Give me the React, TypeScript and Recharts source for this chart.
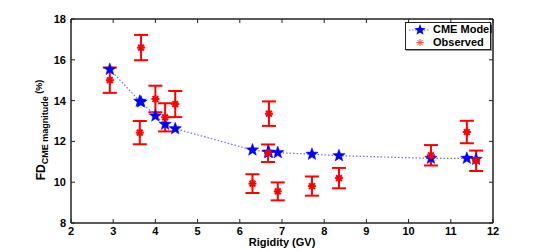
import {
  ScatterChart,
  Scatter,
  XAxis,
  YAxis,
  ErrorBar,
  Legend,
  CartesianGrid,
} from "recharts";

// rigidity of each station (GV)
const rigidity = [2.92, 3.63, 3.66, 4.0, 4.23, 4.47, 6.3, 6.67, 6.69, 6.9, 7.71, 8.35, 10.53, 11.38, 11.6];
// observed FD magnitude (%) and its error
const observed = [15.0, 12.43, 16.6, 14.08, 13.18, 13.83, 9.93, 11.42, 13.36, 9.55, 9.81, 10.2, 11.32, 12.46, 11.05];
const observedErr = [0.62, 0.57, 0.62, 0.65, 0.69, 0.64, 0.46, 0.43, 0.6, 0.44, 0.47, 0.5, 0.5, 0.55, 0.5];
// CME model FD magnitude (%)
const model = [15.53, 13.97, 13.93, 13.25, 12.84, 12.62, 11.58, 11.47, 11.46, 11.45, 11.37, 11.3, 11.17, 11.17, 11.12];

const xTicks = [2, 3, 4, 5, 6, 7, 8, 9, 10, 11, 12];
const yTicks = [8, 10, 12, 14, 16, 18];
const xEdges = [2, 12];
const yEdges = [8, 18];

const obsData = rigidity.map((x, i) => ({ x, y: observed[i], err: observedErr[i] }));
const modelData = rigidity.map((x, i) => ({ x, y: model[i] }));

const FONT = "'Liberation Sans', Arial, sans-serif";
const AXIS = "#222";

// chart layout
const W = 545;
const H = 251;
const MARGIN = { top: 9, right: 42, bottom: 0, left: 0 };
const Y_AXIS_W = 71;
const X_AXIS_H = 28;
const BOX_AXIS = 10;
const PLOT_W = W - MARGIN.left - MARGIN.right - Y_AXIS_W - BOX_AXIS;
const PLOT_H = H - MARGIN.top - MARGIN.bottom - X_AXIS_H - BOX_AXIS;
const TICK = 4;

const starPoints = (cx: number, cy: number, r: number) => {
  const pts: string[] = [];
  for (let k = 0; k < 10; k++) {
    const rad = k % 2 === 0 ? r : r * 0.42;
    const a = -Math.PI / 2 + (k * Math.PI) / 5;
    pts.push(`${cx + rad * Math.cos(a)},${cy + rad * Math.sin(a)}`);
  }
  return pts.join(" ");
};

const Star = (props: any) => {
  const { cx, cy } = props;
  return <polygon points={starPoints(cx, cy, 6.5)} fill="#0000ff" stroke="#0000ff" strokeWidth={0.5} />;
};

const Asterisk = (props: any) => {
  const { cx, cy } = props;
  const r = 4;
  const d = r * 0.72;
  return (
    <g stroke="#ff0000" strokeWidth={2}>
      <line x1={cx - r} y1={cy} x2={cx + r} y2={cy} />
      <line x1={cx} y1={cy - r} x2={cx} y2={cy + r} />
      <line x1={cx - d} y1={cy - d} x2={cx + d} y2={cy + d} />
      <line x1={cx - d} y1={cy + d} x2={cx + d} y2={cy - d} />
    </g>
  );
};

// empty mark, hooks the box axes (top / right) to data
const Nothing = () => <g />;
const hiddenTick = { fill: "transparent", fontSize: 1 };

// bottom axis tick: label plus inward tick marks at bottom and top of the box
const XTick = (props: any) => {
  const { x, y, payload } = props;
  return (
    <g>
      <line x1={x} y1={y} x2={x} y2={y - TICK} stroke={AXIS} />
      <line x1={x} y1={y - PLOT_H} x2={x} y2={y - PLOT_H + TICK} stroke={AXIS} />
      <text x={x} y={y + 12} textAnchor="middle" fontFamily={FONT} fontSize={11} fontWeight="bold" fill="#000">
        {payload.value}
      </text>
    </g>
  );
};

// left axis tick: label plus inward tick marks at left and right of the box
const YTick = (props: any) => {
  const { x, y, payload } = props;
  return (
    <g>
      <line x1={x} y1={y} x2={x + TICK} y2={y} stroke={AXIS} />
      <line x1={x + PLOT_W} y1={y} x2={x + PLOT_W - TICK} y2={y} stroke={AXIS} />
      <text x={x - 5} y={y + 4} textAnchor="end" fontFamily={FONT} fontSize={11} fontWeight="bold" fill="#000">
        {payload.value}
      </text>
    </g>
  );
};

const LegendBox = () => (
  <div
    style={{
      border: "1px solid #222",
      background: "#fff",
      width: 84,
      height: 26,
      fontFamily: FONT,
      fontSize: 11,
      fontWeight: "bold",
      whiteSpace: "nowrap",
      boxShadow: "1px 1px 0 #999",
      lineHeight: "13px",
    }}
  >
    <div style={{ display: "flex", alignItems: "center", height: 13 }}>
      <svg width={27} height={13} style={{ flex: "none" }}>
        <line x1={3} y1={7} x2={24} y2={7} stroke="#6a6aff" strokeWidth={1.2} strokeDasharray="1.5 1.5" />
        <polygon points={starPoints(14, 7, 6)} fill="#0000ff" />
      </svg>
      <span>CME Model</span>
    </div>
    <div style={{ display: "flex", alignItems: "center", height: 13 }}>
      <svg width={27} height={13} style={{ flex: "none" }}>
        <g stroke="#ff4040" strokeWidth={1}>
          <line x1={10.5} y1={6.5} x2={17.5} y2={6.5} />
          <line x1={14} y1={3} x2={14} y2={10} />
          <line x1={11.5} y1={4} x2={16.5} y2={9} />
          <line x1={11.5} y1={9} x2={16.5} y2={4} />
        </g>
      </svg>
      <span>Observed</span>
    </div>
  </div>
);

const YLabel = () => (
  <text
    x={0}
    y={0}
    transform="translate(45, 130) rotate(-90)"
    textAnchor="middle"
    fontFamily={FONT}
    fontWeight="bold"
    fill="#000"
  >
    <tspan fontSize={12}>FD</tspan>
    <tspan fontSize={9} dy={3}>CME magnitude</tspan>
    <tspan fontSize={9} dy={-6}> (%)</tspan>
  </text>
);

export default function App() {
  return (
    <div style={{ position: "absolute", left: 0, top: 0, background: "#fff" }}>
      <ScatterChart width={W} height={H} margin={MARGIN}>
        <CartesianGrid
          xAxisId="bottom"
          yAxisId="left"
          horizontalValues={yEdges}
          verticalValues={xEdges}
          stroke={AXIS}
          fill="none"
        />
        <XAxis
          xAxisId="bottom"
          type="number"
          dataKey="x"
          domain={[2, 12]}
          ticks={xTicks}
          height={X_AXIS_H}
          tickSize={0}
          tickMargin={0}
          tickLine={false}
          stroke={AXIS}
          tick={<XTick />}
          label={{
            value: "Rigidity (GV)",
            position: "insideBottom",
            offset: 5,
            fill: "#000",
            fontSize: 11,
            fontWeight: "bold",
            fontFamily: FONT,
          }}
        />
        <XAxis
          xAxisId="top"
          orientation="top"
          type="number"
          dataKey="x"
          domain={[2, 12]}
          ticks={xTicks}
          height={BOX_AXIS}
          tickLine={false}
          tick={hiddenTick}
          stroke={AXIS}
        />
        <YAxis
          yAxisId="left"
          type="number"
          dataKey="y"
          domain={[8, 18]}
          ticks={yTicks}
          width={Y_AXIS_W}
          tickSize={0}
          tickMargin={0}
          tickLine={false}
          stroke={AXIS}
          tick={<YTick />}
          label={{ content: () => <YLabel /> }}
        />
        <YAxis
          yAxisId="right"
          orientation="right"
          type="number"
          dataKey="y"
          domain={[8, 18]}
          ticks={yTicks}
          width={BOX_AXIS}
          tickLine={false}
          tick={hiddenTick}
          stroke={AXIS}
        />
        <Legend
          layout="horizontal"
          verticalAlign="middle"
          content={() => <LegendBox />}
          wrapperStyle={{ position: "absolute", left: 405, top: 22, width: 86 }}
        />
        <Scatter
          data={modelData}
          xAxisId="top"
          yAxisId="right"
          shape={<Nothing />}
          legendType="none"
          isAnimationActive={false}
        />
        <Scatter
          name="CME Model"
          data={modelData}
          xAxisId="bottom"
          yAxisId="left"
          line={{ stroke: "#6a6aff", strokeWidth: 1.2, strokeDasharray: "1.5 2" }}
          shape={<Star />}
          isAnimationActive={false}
        />
        <Scatter
          name="Observed"
          data={obsData}
          xAxisId="bottom"
          yAxisId="left"
          shape={<Asterisk />}
          isAnimationActive={false}
        >
          <ErrorBar dataKey="err" direction="y" stroke="#ff0000" strokeWidth={2} width={7} />
        </Scatter>
      </ScatterChart>
    </div>
  );
}
